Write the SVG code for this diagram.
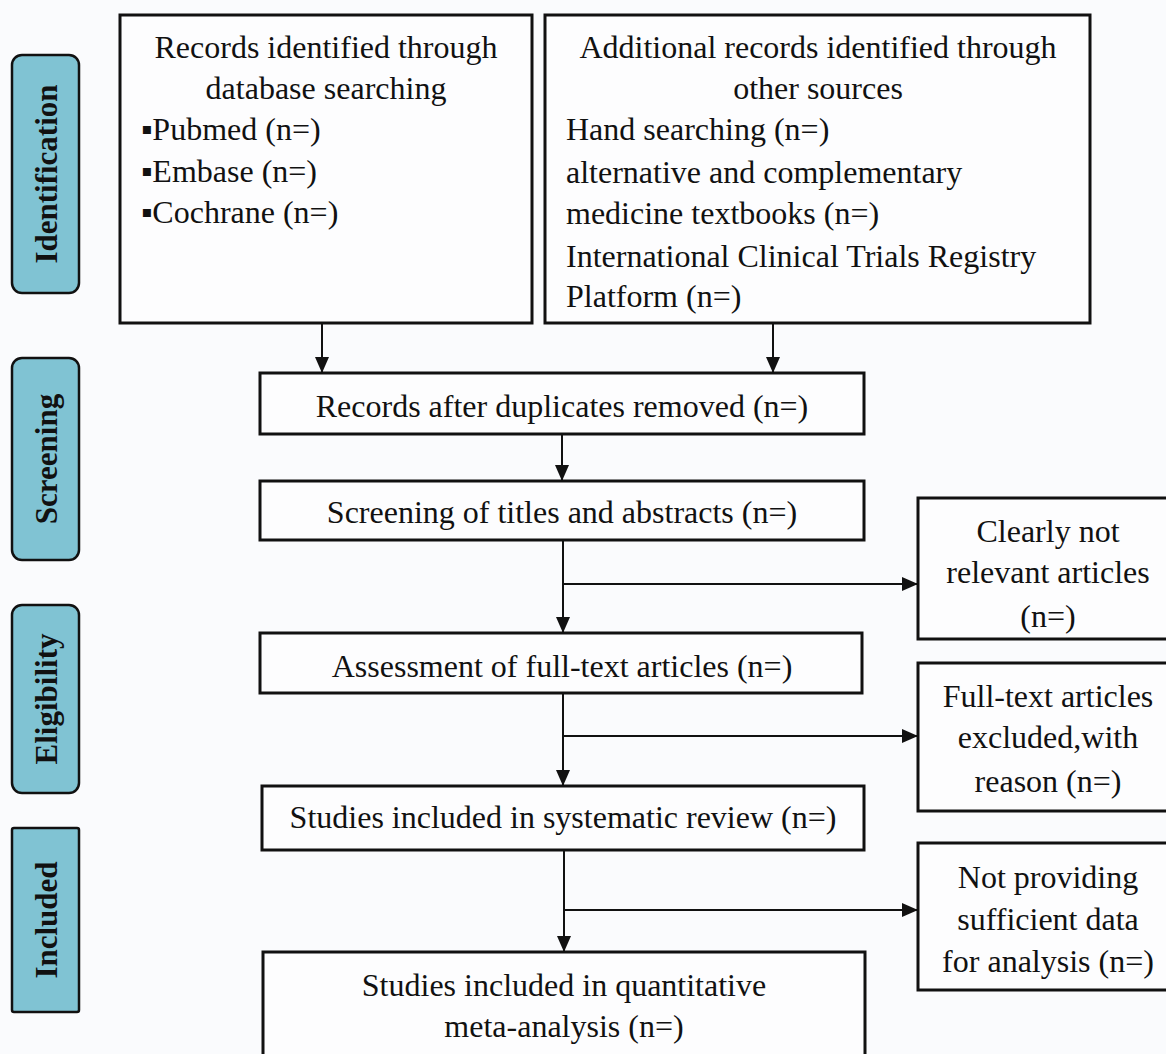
<svg xmlns="http://www.w3.org/2000/svg" width="1166" height="1054" viewBox="0 0 1166 1054">
<style>
.bg{fill:#fafbfd}
.box{fill:#fdfdfe;stroke:#111;stroke-width:3}
.lab{fill:#80c3d3;stroke:#111;stroke-width:2.5}
.t{font-family:"Liberation Serif","Times New Roman",serif;font-size:32px;fill:#111}
.c{text-anchor:middle}
.b{font-family:"Liberation Serif","Times New Roman",serif;font-size:31px;font-weight:bold;fill:#111;text-anchor:middle}
.ln{fill:none;stroke:#111;stroke-width:2}
</style>
<defs>
<marker id="ah" markerUnits="userSpaceOnUse" markerWidth="16" markerHeight="16" viewBox="0 0 16 16" refX="16" refY="8" orient="auto">
<path d="M0,1 L16,8 L0,15 Z" fill="#111"/>
</marker>
</defs>
<rect class="bg" x="0" y="0" width="1166" height="1054"/>

<g id="label-identification">
<rect class="lab" x="12" y="55" width="67" height="238" rx="10"/>
<text class="b" transform="translate(57,174) rotate(-90)">Identification</text>
</g>
<g id="label-screening">
<rect class="lab" x="12" y="358" width="67" height="202" rx="10"/>
<text class="b" transform="translate(57,459) rotate(-90)">Screening</text>
</g>
<g id="label-eligibility">
<rect class="lab" x="12" y="605" width="67" height="188" rx="10"/>
<text class="b" transform="translate(57,699) rotate(-90)">Eligibility</text>
</g>
<g id="label-included">
<rect class="lab" x="12" y="828" width="67" height="184" rx="2"/>
<text class="b" transform="translate(57,920) rotate(-90)">Included</text>
</g>

<g id="box-database">
<rect class="box" x="120" y="15" width="412" height="308"/>
<text class="t c" x="326" y="58">Records identified through</text>
<text class="t c" x="326" y="99">database searching</text>
<text class="t" x="141" y="140">▪Pubmed (n=)</text>
<text class="t" x="141" y="182">▪Embase (n=)</text>
<text class="t" x="141" y="223">▪Cochrane (n=)</text>
</g>

<g id="box-other">
<rect class="box" x="545" y="15" width="545" height="308"/>
<text class="t c" x="818" y="58">Additional records identified through</text>
<text class="t c" x="818" y="99">other sources</text>
<text class="t" x="566" y="140">Hand searching (n=)</text>
<text class="t" x="566" y="183">alternative and complementary</text>
<text class="t" x="566" y="224">medicine textbooks (n=)</text>
<text class="t" x="566" y="267">International Clinical Trials Registry</text>
<text class="t" x="566" y="307">Platform (n=)</text>
</g>

<g id="box-duplicates">
<rect class="box" x="260" y="373" width="604" height="61"/>
<text class="t c" x="562" y="417">Records after duplicates removed (n=)</text>
</g>

<g id="box-screening">
<rect class="box" x="260" y="481" width="604" height="59"/>
<text class="t c" x="562" y="523">Screening of titles and abstracts (n=)</text>
</g>

<g id="box-not-relevant">
<rect class="box" x="918" y="498" width="260" height="141"/>
<text class="t c" x="1048" y="542">Clearly not</text>
<text class="t c" x="1048" y="583">relevant articles</text>
<text class="t c" x="1048" y="627">(n=)</text>
</g>

<g id="box-assessment">
<rect class="box" x="260" y="633" width="602" height="60"/>
<text class="t c" x="562" y="677">Assessment of full-text articles (n=)</text>
</g>

<g id="box-excluded">
<rect class="box" x="918" y="663" width="260" height="148"/>
<text class="t c" x="1048" y="707">Full-text articles</text>
<text class="t c" x="1048" y="748">excluded,with</text>
<text class="t c" x="1048" y="792">reason (n=)</text>
</g>

<g id="box-systematic">
<rect class="box" x="262" y="786" width="602" height="64"/>
<text class="t c" x="563" y="828">Studies included in systematic review (n=)</text>
</g>

<g id="box-insufficient">
<rect class="box" x="918" y="843" width="260" height="147"/>
<text class="t c" x="1048" y="888">Not providing</text>
<text class="t c" x="1048" y="930">sufficient data</text>
<text class="t c" x="1048" y="972">for analysis (n=)</text>
</g>

<g id="box-meta">
<rect class="box" x="263" y="952" width="602" height="120"/>
<text class="t c" x="564" y="996">Studies included in quantitative</text>
<text class="t c" x="564" y="1037">meta-analysis (n=)</text>
</g>

<g id="connectors">
<line class="ln" x1="322" y1="324" x2="322" y2="373" marker-end="url(#ah)"/>
<line class="ln" x1="773" y1="324" x2="773" y2="373" marker-end="url(#ah)"/>
<line class="ln" x1="562" y1="435" x2="562" y2="481" marker-end="url(#ah)"/>
<line class="ln" x1="563" y1="541" x2="563" y2="633" marker-end="url(#ah)"/>
<line class="ln" x1="563" y1="584" x2="918" y2="584" marker-end="url(#ah)"/>
<line class="ln" x1="563" y1="694" x2="563" y2="786" marker-end="url(#ah)"/>
<line class="ln" x1="563" y1="736" x2="918" y2="736" marker-end="url(#ah)"/>
<line class="ln" x1="564" y1="851" x2="564" y2="952" marker-end="url(#ah)"/>
<line class="ln" x1="564" y1="910" x2="918" y2="910" marker-end="url(#ah)"/>
</g>
</svg>
